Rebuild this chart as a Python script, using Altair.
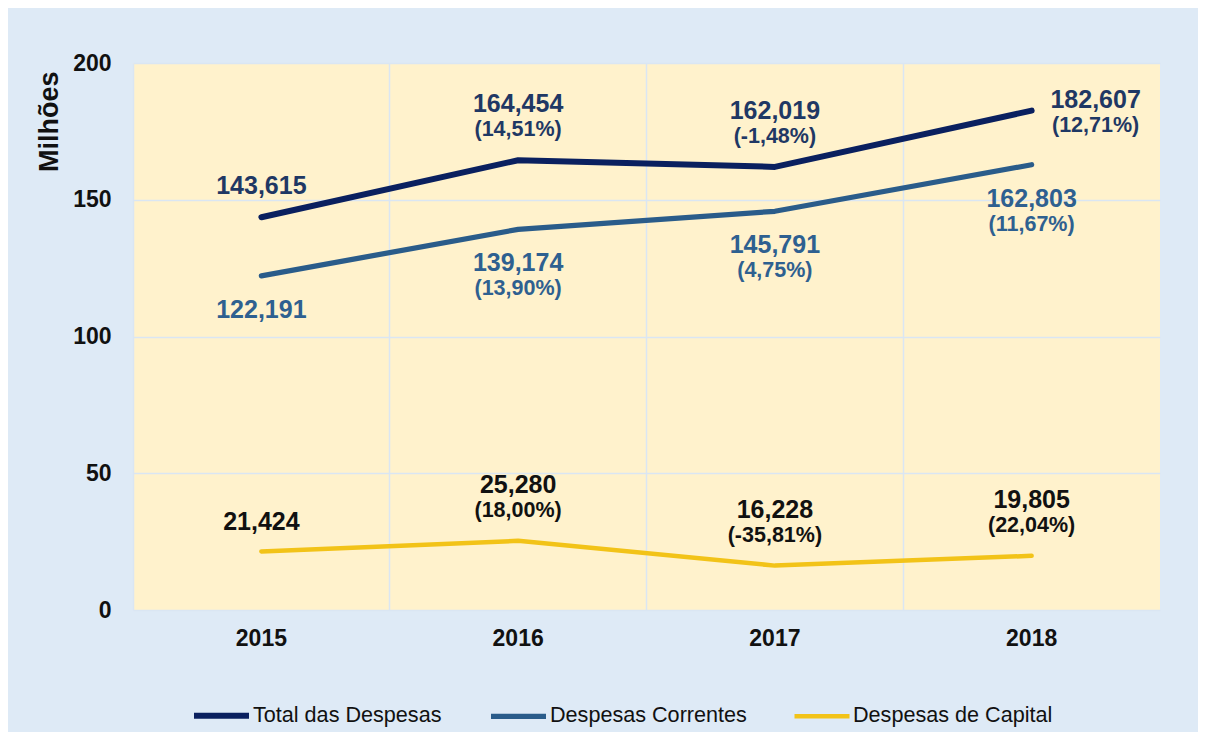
import altair as alt
import pandas as pd
import json

years = ["2015", "2016", "2017", "2018"]
series = ["Total das Despesas", "Despesas Correntes", "Despesas de Capital"]
total = [143.615, 164.454, 162.019, 182.607]
correntes = [122.191, 139.174, 145.791, 162.803]
capital = [21.424, 25.280, 16.228, 19.805]
total_pct = ["", "(14,51%)", "(-1,48%)", "(12,71%)"]
correntes_pct = ["", "(13,90%)", "(4,75%)", "(11,67%)"]
capital_pct = ["", "(18,00%)", "(-35,81%)", "(22,04%)"]

line_colors = ["#0A205F", "#2A5C8A", "#F2C318"]
text_colors = {"Total das Despesas": "#1F3864", "Despesas Correntes": "#2E6090", "Despesas de Capital": "#111111"}

rows = []
for name, vals, pcts in [(series[0], total, total_pct), (series[1], correntes, correntes_pct), (series[2], capital, capital_pct)]:
    for y, v, p in zip(years, vals, pcts):
        rows.append({"ano": y, "serie": name, "valor": v,
                     "rotulo": f"{v:.3f}".replace(".", ","), "pct": p})
df = pd.DataFrame(rows)

FONT = "Liberation Sans"

x_enc = alt.X("ano:N", title=None,
              scale=alt.Scale(type="band", paddingInner=0, paddingOuter=0),
              axis=alt.Axis(labelAngle=0, labelFontSize=23, labelFontWeight="bold", labelColor="#111111",
                            labelPadding=17, ticks=False, tickSize=0, domain=False,
                            grid=True, gridColor="#DAE6F3", gridWidth=1.5, bandPosition=0))
y_enc = alt.Y("valor:Q",
              scale=alt.Scale(domain=[0, 200], nice=False),
              axis=alt.Axis(values=[0, 50, 100, 150, 200], title="Milhões", titleFontSize=27,
                            titleFontWeight="bold", titleColor="#111111", titleX=-84, titleY=8,
                            titleAlign="right", titleBaseline="middle", titleAngle=-90,
                            labelFontSize=23, labelFontWeight="bold", labelColor="#111111",
                            labelPadding=22, ticks=False, tickSize=0, domain=False,
                            grid=True, gridColor="#DAE6F3", gridWidth=1.5))

base = alt.Chart(df).encode(x=x_enc, y=y_enc)

lines = base.mark_line(strokeCap="round", strokeJoin="round").encode(
    color=alt.Color("serie:N", sort=series,
                    scale=alt.Scale(domain=series, range=line_colors),
                    legend=alt.Legend(title=None, orient="none", direction="horizontal",
                                      legendX=58, legendY=622, symbolType="stroke",
                                      symbolSize=3025, symbolStrokeWidth=5,
                                      labelFontSize=21.6, labelFont=FONT, labelColor="#111111",
                                      labelLimit=400, labelOffset=1, columnPadding=38, padding=0)),
    strokeWidth=alt.StrokeWidth("serie:N", sort=series,
                                scale=alt.Scale(domain=series, range=[6, 4.5, 4.5]), legend=None),
)


def label(serie, yrs, field, dx, dy, size):
    expr = f"datum.serie === {json.dumps(serie)} && indexof({json.dumps(yrs)}, datum.ano) >= 0"
    return base.mark_text(font=FONT, fontWeight="bold", fontSize=size, dx=dx, dy=dy,
                          baseline="middle", align="center", color=text_colors[serie]).encode(
        text=f"{field}:N"
    ).transform_filter(expr)


T, C, K = series
VS, PS = 25, 21.5
layers = [
    lines,
    label(T, ["2015"], "rotulo", 0, -31, VS),
    label(T, ["2016", "2017"], "rotulo", 0, -56, VS),
    label(T, ["2016", "2017"], "pct", 0, -30, PS),
    label(T, ["2018"], "rotulo", 64, -11, VS),
    label(T, ["2018"], "pct", 64, 15, PS),
    label(C, years, "rotulo", 0, 34, VS),
    label(C, ["2016", "2017", "2018"], "pct", 0, 60, PS),
    label(K, ["2015"], "rotulo", 0, -29, VS),
    label(K, ["2016", "2017", "2018"], "rotulo", 0, -56, VS),
    label(K, ["2016", "2017", "2018"], "pct", 0, -30, PS),
]

chart = alt.layer(*layers).properties(
    width=1027, height=547,
    background="#DEEAF6",
    view=alt.ViewBackground(fill="#FFF2CC", stroke=None),
    padding={"left": 125, "top": 55, "right": 38, "bottom": 122},
    autosize=alt.AutoSizeParams(type="none"),
).configure_view(fill="#FFF2CC", stroke=None).configure(font=FONT)

chart.save("out.html", embed_options={"renderer": "svg", "actions": False})
